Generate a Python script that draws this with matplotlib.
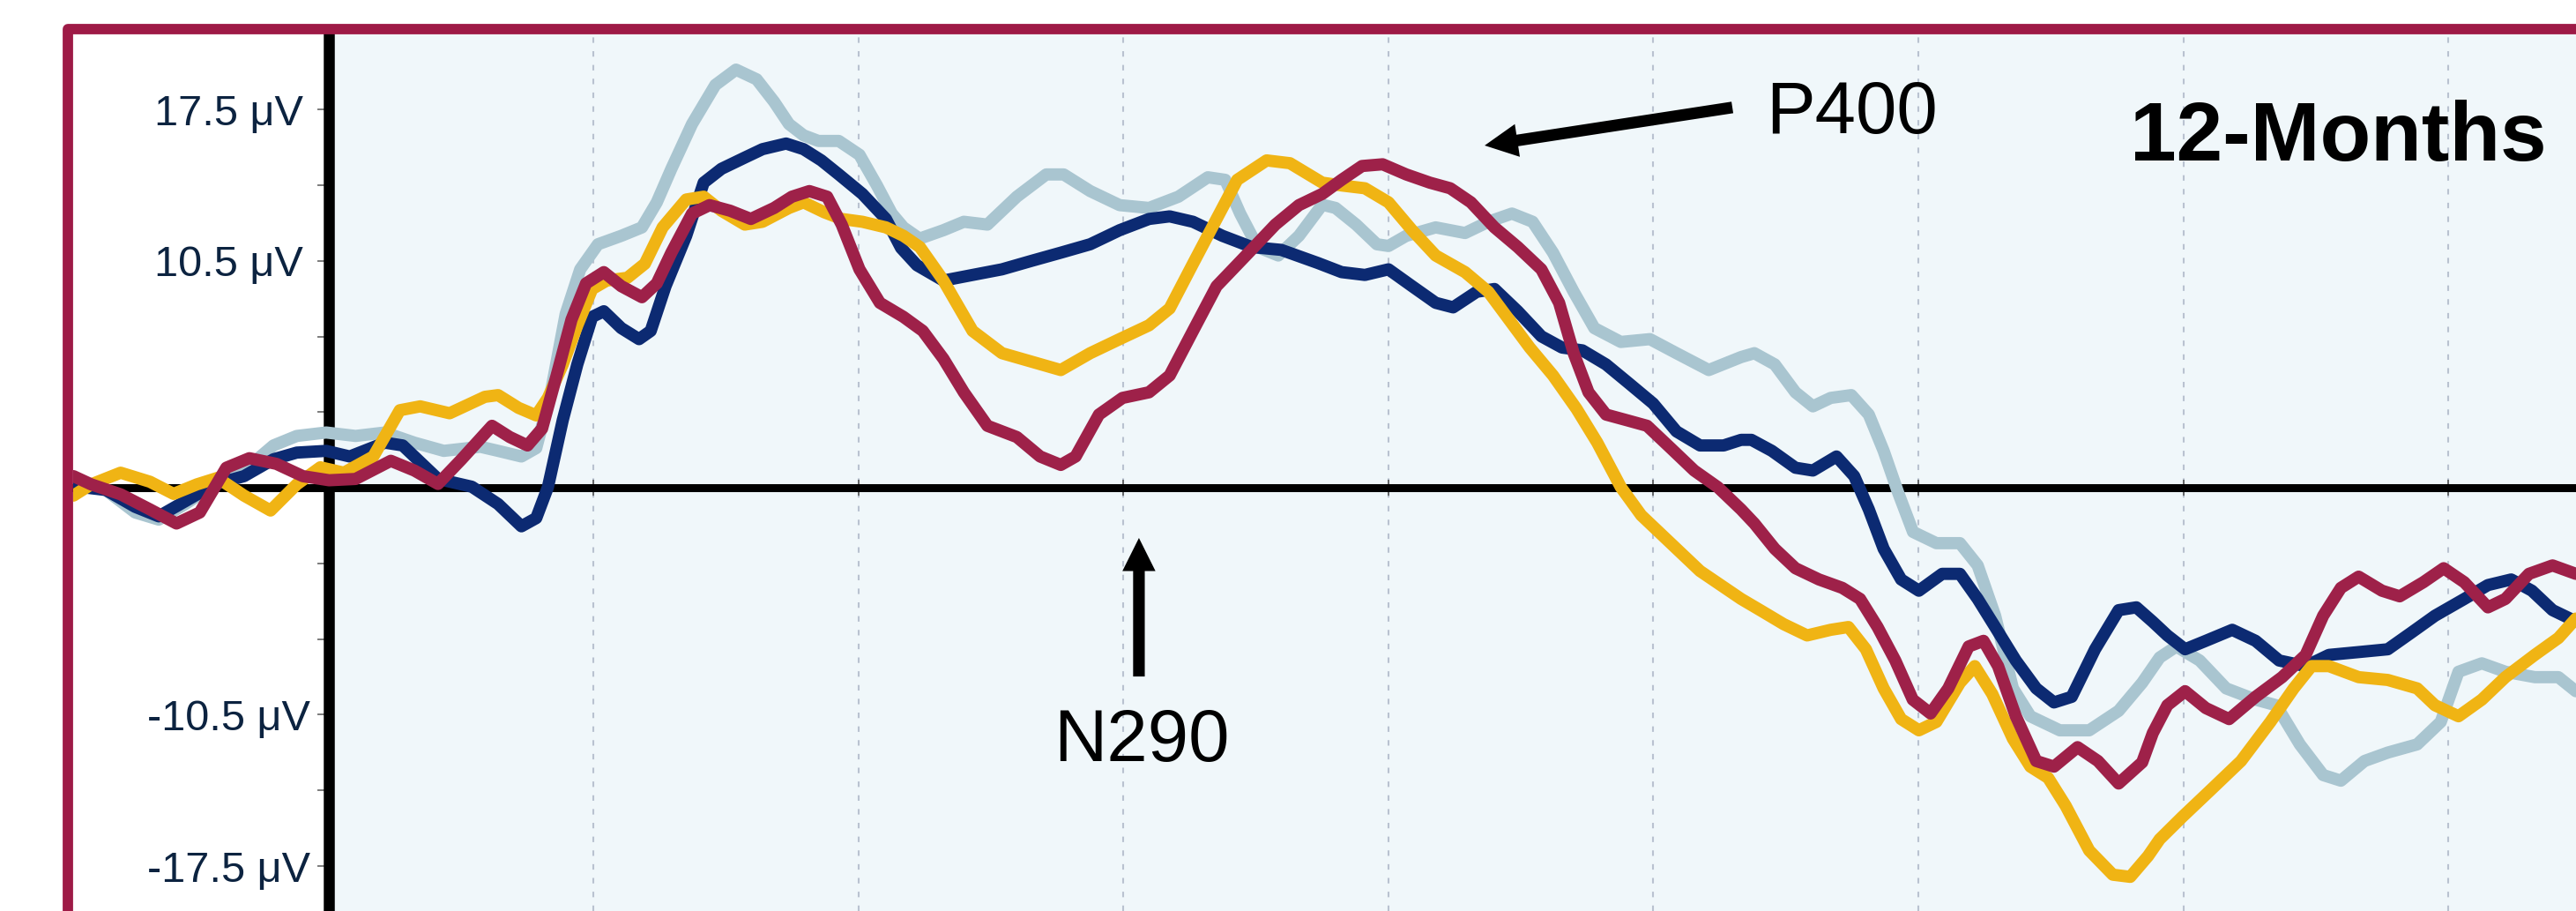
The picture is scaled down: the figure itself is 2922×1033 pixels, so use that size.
import matplotlib
matplotlib.use("Agg")
import matplotlib.pyplot as plt
from matplotlib.patches import Rectangle

plt.rcParams['font.family'] = ['Liberation Sans', 'DejaVu Sans']

# ---------------- data (time in ms, amplitude in microvolts) ----------------
navy_t = [-96.4, -84.2, -73.1, -64.2, -54.2, -43.1, -32.0, -20.9, -12.1, -1.0, 7.9, 21.2, 27.9, 41.2, 54.0,
          63.9, 72.7, 78.3, 82.7, 88.3, 93.8, 99.4, 103.8, 110.4, 117.1, 121.5, 127.1, 134.9, 141.5, 148.2,
          157.0, 163.7, 172.6, 179.2, 185.9, 192.5, 201.4, 210.3, 216.0, 222.0, 232.0, 243.0, 254.1, 265.2,
          276.3, 287.4, 298.5, 309.6, 317.4, 326.2, 337.3, 348.4, 359.5, 373.4, 382.3, 391.1, 400.0, 408.9,
          417.8, 424.4, 433.3, 440.0, 448.8, 457.7, 465.5, 473.2, 482.1, 491.0, 499.9, 508.7, 517.6, 526.5,
          533.1, 537.0, 544.7, 553.6, 560.2, 569.1, 575.8, 581.3, 586.9, 593.5, 600.2, 609.0, 615.7, 622.4,
          629.0, 636.8, 644.5, 651.2, 657.9, 666.7, 675.6, 682.3, 688.5, 694.0, 700.7, 708.5, 718.5, 727.3,
          736.2, 746.2, 755.0, 766.2, 777.2, 786.1, 795.0, 806.1, 815.0, 823.8, 831.6, 839.4, 848.2]
navy_v = [0.08, -0.10, -0.88, -1.32, -0.62, 0.16, 0.54, 1.32, 1.63, 1.71, 1.45, 2.09, 1.96, 0.41, 0.05,
          -0.75, -1.78, -1.40, 0.03, 3.13, 5.71, 7.91, 8.17, 7.39, 6.88, 7.26, 9.33, 11.66, 14.12, 14.76,
          15.28, 15.67, 15.93, 15.67, 15.15, 14.50, 13.60, 12.44, 11.10, 10.30, 9.59, 9.85, 10.11, 10.50,
          10.88, 11.27, 11.92, 12.44, 12.56, 12.31, 11.66, 11.14, 11.01, 10.40, 9.98, 9.85, 10.11, 9.33,
          8.56, 8.35, 9.07, 9.20, 8.17, 7.01, 6.49, 6.36, 5.71, 4.81, 3.90, 2.61, 1.96, 1.96,
          2.22, 2.22, 1.71, 0.93, 0.80, 1.45, 0.54, -1.00, -2.82, -4.24, -4.76, -3.98, -3.98, -5.14,
          -6.44, -7.99, -9.28, -9.93, -9.67, -7.47, -5.66, -5.53, -6.20, -6.83, -7.47, -7.08, -6.57, -7.08,
          -7.99, -8.25, -7.73, -7.60, -7.47, -6.70, -5.92, -5.14, -4.50, -4.24, -4.76, -5.66, -6.18]

lightblue_t = [-96.4, -84.2, -73.1, -64.2, -54.2, -43.1, -32.0, -20.9, -12.1, -1.0, 10.1, 21.2, 32.3, 43.4,
               57.2, 63.9, 72.7, 78.3, 83.8, 89.4, 94.9, 101.6, 110.4, 118.2, 123.8, 129.3, 137.1, 145.9,
               153.7, 161.5, 168.1, 173.7, 179.2, 184.8, 192.5, 200.3, 206.9, 212.5, 216.9, 223.0, 232.0,
               239.7, 248.6, 259.7, 270.8, 277.4, 287.4, 298.5, 309.6, 320.7, 331.8, 338.4, 344.0, 350.6,
               358.4, 366.2, 375.0, 380.0, 387.8, 395.6, 400.0, 406.7, 417.8, 428.9, 437.7, 446.6, 454.4,
               462.1, 469.9, 477.7, 487.7, 498.7, 508.7, 520.9, 533.1, 538.1, 545.8, 553.6, 560.2, 566.9,
               574.7, 581.3, 586.9, 592.4, 598.0, 606.8, 615.7, 622.4, 629.0, 635.7, 642.3, 653.4, 664.5,
               675.6, 684.5, 691.1, 697.4, 706.2, 716.2, 727.3, 735.1, 744.0, 752.8, 759.5, 768.4, 777.2,
               788.3, 797.2, 803.9, 812.7, 821.6, 832.7, 841.6, 848.2]
lightblue_v = [0.28, -0.10, -1.14, -1.47, -0.75, 0.16, 0.80, 1.96, 2.40, 2.56, 2.40, 2.56, 2.09, 1.71,
               1.90, 1.71, 1.45, 1.84, 4.42, 8.04, 10.11, 11.27, 11.66, 12.05, 13.21, 14.76, 16.83, 18.64,
               19.35, 18.90, 17.86, 16.83, 16.31, 16.05, 16.05, 15.41, 13.99, 12.69, 12.05, 11.53, 11.92,
               12.31, 12.18, 13.47, 14.50, 14.50, 13.73, 13.08, 12.95, 13.47, 14.37, 14.25, 12.69, 11.14,
               10.75, 11.66, 13.10, 12.95, 12.18, 11.27, 11.19, 11.66, 12.05, 11.79, 12.31, 12.69, 12.31,
               10.88, 9.07, 7.39, 6.75, 6.88, 6.23, 5.45, 6.05, 6.23, 5.71, 4.42, 3.77, 4.16,
               4.29, 3.39, 1.71, -0.23, -2.04, -2.56, -2.56, -3.59, -5.92, -9.28, -10.57, -11.22, -11.22,
               -10.32, -9.02, -7.85, -7.34, -7.99, -9.28, -9.80, -10.06, -11.87, -13.29, -13.55, -12.64, -12.25,
               -11.87, -10.83, -8.51, -8.12, -8.51, -8.76, -8.76, -9.41]

yellow_t = [-96.4, -89.7, -78.6, -67.5, -58.6, -49.8, -42.0, -32.0, -22.0, -12.1, -3.2, 5.7, 16.8, 26.8,
            34.5, 45.6, 58.9, 63.9, 71.6, 78.3, 82.7, 88.3, 93.8, 99.4, 104.9, 112.7, 119.3, 126.0, 134.9,
            141.5, 148.2, 157.0, 163.7, 173.7, 179.2, 187.0, 193.6, 201.4, 210.3, 216.9, 223.1, 232.0,
            243.0, 254.1, 265.2, 276.3, 287.4, 298.5, 309.6, 317.4, 326.2, 335.1, 342.9, 354.0, 362.8,
            375.0, 382.3, 391.1, 400.0, 408.9, 417.8, 428.9, 437.7, 445.5, 453.3, 462.1, 471.0, 478.8,
            487.7, 495.4, 506.5, 517.6, 533.1, 540.3, 549.2, 558.0, 566.9, 573.6, 580.2, 586.9, 593.5,
            600.2, 606.8, 615.7, 621.3, 627.9, 635.7, 642.3, 649.0, 655.6, 664.5, 673.4, 680.0, 686.7,
            691.1, 699.6, 710.7, 721.8, 732.9, 741.7, 748.4, 755.0, 766.2, 777.2, 788.3, 795.0, 803.9,
            812.7, 821.6, 832.7, 841.6, 848.2]
yellow_v = [-0.36, 0.16, 0.70, 0.28, -0.28, 0.16, 0.46, -0.36, -1.05, 0.16, 0.95, 0.70, 1.45, 3.59,
            3.77, 3.45, 4.21, 4.29, 3.70, 3.35, 4.16, 5.71, 7.52, 9.20, 9.59, 9.72, 10.37, 12.05, 13.34,
            13.47, 12.82, 12.18, 12.31, 12.95, 13.21, 12.75, 12.44, 12.31, 12.05, 11.66, 11.14, 9.59,
            7.26, 6.23, 5.84, 5.45, 6.23, 6.88, 7.52, 8.30, 10.37, 12.44, 14.25, 15.15, 15.02,
            14.12, 13.99, 13.86, 13.21, 11.92, 10.75, 9.98, 9.07, 7.78, 6.49, 5.20, 3.65, 2.09,
            0.03, -1.27, -2.56, -3.85, -5.14, -5.66, -6.31, -6.83, -6.57, -6.44, -7.47, -9.28, -10.70,
            -11.22, -10.83, -9.02, -8.25, -9.54, -11.61, -12.90, -13.42, -14.71, -16.78, -17.90, -18.00, -17.04,
            -16.26, -15.23, -13.94, -12.64, -10.83, -9.28, -8.25, -8.25, -8.76, -8.89, -9.28, -10.06, -10.57,
            -9.80, -8.76, -7.73, -6.95, -6.05]

maroon_t = [-96.4, -89.7, -78.6, -67.5, -57.5, -48.7, -38.7, -30.0, -19.8, -9.8, 0.1, 10.1, 23.4, 32.3,
            41.2, 50.1, 61.6, 68.3, 75.0, 80.5, 86.0, 91.6, 97.1, 103.8, 110.4, 118.2, 123.8, 129.3, 137.1,
            143.7, 151.5, 159.3, 168.1, 174.8, 181.4, 188.1, 193.6, 200.3, 208.0, 216.9, 224.2, 232.0,
            239.7, 248.6, 259.7, 268.5, 276.3, 281.9, 290.7, 299.6, 309.6, 317.4, 326.2, 335.1, 346.2,
            357.3, 366.2, 375.0, 382.3, 390.0, 397.8, 406.7, 415.6, 423.3, 431.1, 440.0, 448.8, 457.7,
            464.4, 469.9, 475.5, 482.1, 489.9, 497.6, 506.5, 515.4, 524.3, 533.1, 538.1, 545.8, 553.6,
            562.5, 571.3, 578.0, 584.6, 591.3, 597.9, 604.6, 611.3, 619.0, 624.6, 630.1, 636.8, 644.5,
            651.2, 660.1, 667.8, 675.6, 684.5, 688.5, 694.0, 700.7, 708.5, 717.3, 727.3, 737.3, 746.2,
            752.8, 759.5, 766.2, 775.0, 781.7, 790.6, 798.3, 806.1, 815.0, 821.6, 830.5, 839.4, 848.2]
maroon_v = [0.54, 0.16, -0.30, -1.00, -1.65, -1.14, 0.93, 1.37, 1.11, 0.54, 0.35, 0.41, 1.25, 0.80,
            0.18, 1.32, 2.87, 2.35, 1.96, 2.74, 5.20, 7.78, 9.46, 9.98, 9.33, 8.82, 9.46, 10.88, 12.69,
            13.08, 12.82, 12.44, 12.95, 13.47, 13.73, 13.47, 12.18, 10.11, 8.56, 7.91, 7.26, 5.97,
            4.42, 2.87, 2.35, 1.45, 1.06, 1.45, 3.39, 4.16, 4.42, 5.20, 7.26, 9.33, 10.75,
            12.18, 13.08, 13.60, 14.25, 14.89, 14.97, 14.50, 14.12, 13.86, 13.21, 12.05, 11.14, 10.11,
            8.56, 6.23, 4.42, 3.39, 3.13, 2.87, 1.84, 0.80, 0.03, -1.00, -1.65, -2.82, -3.72,
            -4.24, -4.63, -5.14, -6.44, -7.99, -9.80, -10.44, -9.28, -7.34, -7.08, -8.25, -10.57, -12.64,
            -12.90, -12.00, -12.64, -13.68, -12.70, -11.35, -10.06, -9.41, -10.19, -10.70, -9.67, -8.76, -7.73,
            -5.92, -4.63, -4.11, -4.76, -5.02, -4.37, -3.72, -4.37, -5.53, -5.14, -3.98, -3.59, -3.98]

ytick_values = [-17.5, -14.0, -10.5, -7.0, -3.5, 3.5, 7.0, 10.5, 14.0, 17.5]
ytick_labels = ['-17.5 μV', '', '-10.5 μV', '', '', '', '', '10.5 μV', '', '17.5 μV']
grid_times = [100, 200, 300, 400, 500, 600, 700, 800]

# ---------------- figure ----------------
W, H = 2922, 1033
fig = plt.figure(figsize=(W / 100, H / 100), dpi=100)
fig.patch.set_facecolor('white')

ax = fig.add_axes([83 / W, 0, (W - 83) / W, (H - 39) / H])
ax.set_xlim(-96.5, 848.25)
ax.set_ylim(-19.58, 20.98)
ax.set_facecolor('white')
ax.axvspan(0, 848.25, color='#f0f7fa', zorder=0, lw=0)

for gt in grid_times:
    ax.axvline(gt, color='#b9c2d0', lw=1.5, linestyle=(0, (3, 4.5)), zorder=1)

for s in ['top', 'right']:
    ax.spines[s].set_visible(False)
ax.spines['left'].set_position(('data', 0))
ax.spines['left'].set_linewidth(9)
ax.spines['left'].set_color('black')
ax.spines['bottom'].set_position(('data', 0))
ax.spines['bottom'].set_linewidth(6.5)
ax.spines['bottom'].set_color('black')

ax.set_yticks(ytick_values)
ax.set_yticklabels(ytick_labels)
ax.tick_params(axis='y', direction='out', length=9.5, width=1.2, color='#666666',
               pad=72, labelsize=35, labelcolor='#0c2340')
for lab in ax.get_yticklabels():
    lab.set_horizontalalignment('center')
ax.set_xticks(grid_times)
ax.set_xticklabels([])
ax.tick_params(axis='x', direction='inout', length=13, width=1.2, color='#555555')

kw = dict(lw=10, solid_joinstyle='round', solid_capstyle='round')
ax.plot(lightblue_t, lightblue_v, color='#a9c5d0', zorder=3, **kw)
ax.plot(navy_t, navy_v, color='#0c2a72', zorder=4, **kw)
ax.plot(yellow_t, yellow_v, color='#f0b414', zorder=5, **kw)
ax.plot(maroon_t, maroon_v, color='#9e2149', zorder=6, **kw)

# annotations
ax.text(542.6, 16.42, 'P400', fontsize=60, ha='left', va='baseline', color='black', zorder=8)
ax.text(306.8, -12.64, 'N290', fontsize=60, ha='center', va='baseline', color='black', zorder=8)
ax.text(837, 15.13, '12-Months', fontsize=68, fontweight='bold', ha='right', va='baseline',
        color='black', zorder=8)

arrow = dict(arrowstyle='simple,head_length=27,head_width=27,tail_width=9.5',
             mutation_scale=1, facecolor='black', edgecolor='none', lw=0,
             shrinkA=0, shrinkB=0)
ax.annotate('', xy=(305.8, -2.32), xytext=(305.8, -8.73), arrowprops=arrow, zorder=8)
ax.annotate('', xy=(436.3, 15.84), xytext=(529.8, 17.6), arrowprops=arrow, zorder=8)

# maroon frame (left and top edges visible, others run off the canvas)
frame = Rectangle((77 / W, -0.1), 1.2, (H - 33) / H + 0.1, transform=fig.transFigure,
                  fill=False, edgecolor='#9e1a46', lw=8.5, joinstyle='round', clip_on=False, zorder=20)
fig.add_artist(frame)

fig.savefig('out.png', dpi=100, facecolor='white')
